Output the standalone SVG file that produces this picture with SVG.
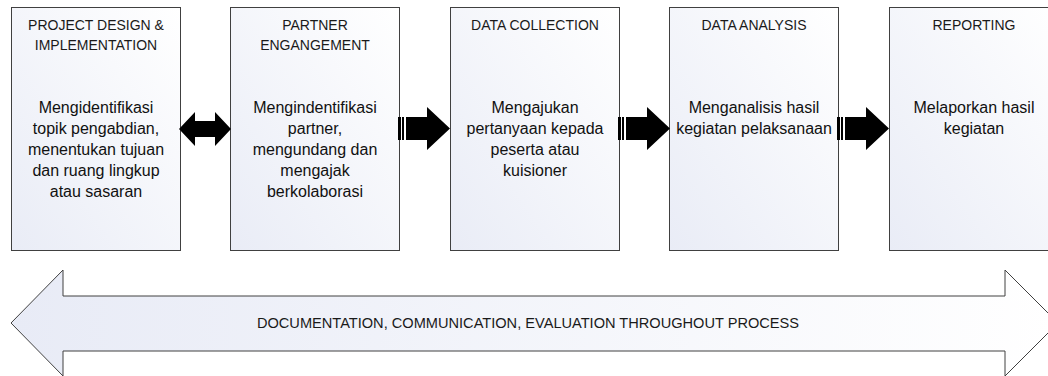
<svg xmlns="http://www.w3.org/2000/svg" width="1048" height="376" viewBox="0 0 1048 376">
<defs>
<linearGradient id="gBox" x1="0" y1="1" x2="1" y2="0">
<stop offset="0" stop-color="#e9ecf6"/>
<stop offset="1" stop-color="#ffffff"/>
</linearGradient>
<linearGradient id="gArrow" x1="0" y1="0" x2="1" y2="0">
<stop offset="0" stop-color="#e8ebf6"/>
<stop offset="1" stop-color="#ffffff"/>
</linearGradient>
<path id="striped" d="M0,-11.5 H3 V11.5 H0 Z M4,-11.5 H6 V11.5 H4 Z M8,-11.5 H29 V-21.5 L52,0 L29,21.5 V11.5 H8 Z"/>
</defs>
<style>
.box{fill:url(#gBox);stroke:#404040;stroke-width:1}
.hd{font-family:"Liberation Sans",Arial,sans-serif;font-size:14px;fill:#1a1a1a;text-anchor:middle}
.ft{font-family:"Liberation Sans",Arial,sans-serif;font-size:14.6px;fill:#1a1a1a;text-anchor:middle}
.bd{font-family:"Liberation Sans",Arial,sans-serif;font-size:16px;fill:#111;text-anchor:middle}
.conn{fill:#000}
</style>
<g id="bottom-arrow">
<path d="M11,323 L63,270 V296 H1005 V270 L1058,323 L1005,376 V351 H63 V376 Z" fill="url(#gArrow)" stroke="#404040" stroke-width="1"/>
<text x="528" y="328" class="ft">DOCUMENTATION, COMMUNICATION, EVALUATION THROUGHOUT PROCESS</text>
</g>
<g id="node1">
<rect class="box" x="11.5" y="7.5" width="169" height="243"/>
<text class="hd" x="96" y="30">PROJECT DESIGN &amp;</text>
<text class="hd" x="96" y="50">IMPLEMENTATION</text>
<text class="bd" x="96" y="113">Mengidentifikasi</text>
<text class="bd" x="96" y="134">topik pengabdian,</text>
<text class="bd" x="96" y="155">menentukan tujuan</text>
<text class="bd" x="96" y="176">dan ruang lingkup</text>
<text class="bd" x="96" y="197">atau sasaran</text>
</g>
<g id="node2">
<rect class="box" x="230.5" y="7.5" width="169" height="243"/>
<text class="hd" x="315" y="30">PARTNER</text>
<text class="hd" x="315" y="50">ENGANGEMENT</text>
<text class="bd" x="315" y="113">Mengindentifikasi</text>
<text class="bd" x="315" y="134">partner,</text>
<text class="bd" x="315" y="155">mengundang dan</text>
<text class="bd" x="315" y="176">mengajak</text>
<text class="bd" x="315" y="197">berkolaborasi</text>
</g>
<g id="node3">
<rect class="box" x="450.5" y="7.5" width="169" height="243"/>
<text class="hd" x="535" y="30">DATA COLLECTION</text>
<text class="bd" x="535" y="113">Mengajukan</text>
<text class="bd" x="535" y="134">pertanyaan kepada</text>
<text class="bd" x="535" y="155">peserta atau</text>
<text class="bd" x="535" y="176">kuisioner</text>
</g>
<g id="node4">
<rect class="box" x="669.5" y="7.5" width="169" height="243"/>
<text class="hd" x="754" y="30">DATA ANALYSIS</text>
<text class="bd" x="754" y="113">Menganalisis hasil</text>
<text class="bd" x="754" y="134">kegiatan pelaksanaan</text>
</g>
<g id="node5">
<rect class="box" x="889.5" y="7.5" width="169" height="243"/>
<text class="hd" x="974" y="30">REPORTING</text>
<text class="bd" x="974" y="113">Melaporkan hasil</text>
<text class="bd" x="974" y="134">kegiatan</text>
</g>
<g id="connectors">
<path class="conn" d="M179,129 L195,112 V121 H215 V112 L231,129 L215,146 V137 H195 V146 Z"/>
<use href="#striped" class="conn" x="398" y="128.5"/>
<use href="#striped" class="conn" x="618" y="128.5"/>
<use href="#striped" class="conn" x="837" y="128.5"/>
</g>
</svg>
